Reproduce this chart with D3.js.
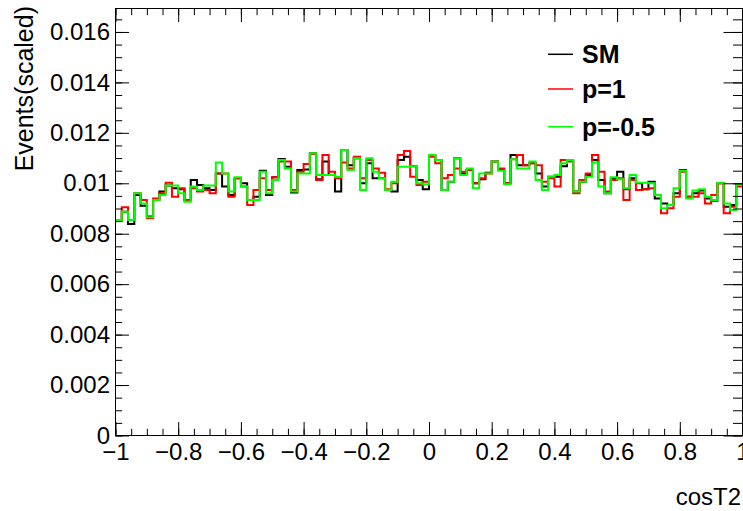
<!DOCTYPE html>
<html>
<head>
<meta charset="utf-8">
<script src="https://cdn.jsdelivr.net/npm/d3@7"></script>
<style>
  html, body { margin: 0; padding: 0; background: #fff; }
  svg { display: block; }
  text { font-family: "Liberation Sans", Arial, Helvetica, sans-serif; }
</style>
</head>
<body>
<svg id="chart" width="743" height="511"></svg>
<script>
// Histogram binning of cosT2
const binLow = -1;
const binHigh = 1;
const nBins = 100;

// Normalised bin contents, one value per bin
const smValues = [
  0.00854, 0.00887, 0.00839, 0.00954, 0.00911, 0.00868, 0.00934, 0.00967, 0.00991, 0.00980,
  0.00976, 0.00934, 0.01013, 0.00993, 0.00980, 0.00973, 0.01039, 0.00987, 0.00954, 0.01020,
  0.01000, 0.00934, 0.00947, 0.01050, 0.00954, 0.01024, 0.01096, 0.01066, 0.00963, 0.01053,
  0.01055, 0.01119, 0.01016, 0.01086, 0.01033, 0.00967, 0.01132, 0.01072, 0.01099, 0.01000,
  0.01079, 0.01020, 0.01020, 0.00973, 0.00967, 0.01092, 0.01105, 0.01068, 0.01013, 0.00976,
  0.01112, 0.01092, 0.00973, 0.01006, 0.01099, 0.01039, 0.01053, 0.01000, 0.01016, 0.01042,
  0.01086, 0.01053, 0.01000, 0.01112, 0.01072, 0.01072, 0.01079, 0.01039, 0.00987, 0.01026,
  0.01026, 0.01068, 0.01090, 0.00967, 0.01006, 0.01033, 0.01092, 0.01013, 0.00960, 0.01020,
  0.01046, 0.00976, 0.01020, 0.01000, 0.00976, 0.01006, 0.00940, 0.00920, 0.00914, 0.00960,
  0.01053, 0.00947, 0.00960, 0.00971, 0.00940, 0.00931, 0.01000, 0.00907, 0.00914, 0.00993
];
const p1Values = [
  0.00850, 0.00905, 0.00854, 0.00960, 0.00934, 0.00861, 0.00940, 0.00960, 0.01002, 0.00947,
  0.00980, 0.00934, 0.00980, 0.00967, 0.00973, 0.00960, 0.01039, 0.01039, 0.00947, 0.01020,
  0.00987, 0.00914, 0.00973, 0.01020, 0.00973, 0.01024, 0.01086, 0.01086, 0.00973, 0.01046,
  0.01076, 0.01116, 0.01013, 0.01112, 0.01046, 0.01020, 0.01082, 0.01059, 0.01105, 0.01020,
  0.01092, 0.01059, 0.01042, 0.00976, 0.01000, 0.01112, 0.01128, 0.01026, 0.00993, 0.01006,
  0.01105, 0.01079, 0.01020, 0.01033, 0.01059, 0.01046, 0.01053, 0.01000, 0.01020, 0.01039,
  0.01086, 0.01059, 0.01000, 0.01095, 0.01112, 0.01072, 0.01079, 0.01072, 0.01006, 0.01020,
  0.00987, 0.01092, 0.01086, 0.00960, 0.01013, 0.01039, 0.01112, 0.01046, 0.00967, 0.01013,
  0.01020, 0.00934, 0.01013, 0.00973, 0.00976, 0.00980, 0.00954, 0.00881, 0.00901, 0.00947,
  0.01046, 0.00947, 0.00947, 0.00960, 0.00920, 0.00954, 0.01000, 0.00881, 0.00907, 0.00987
];
const pm05Values = [
  0.00854, 0.00887, 0.00854, 0.00960, 0.00920, 0.00865, 0.00934, 0.00954, 0.00991, 0.00991,
  0.00960, 0.00927, 0.00987, 0.00973, 0.00991, 0.00991, 0.01082, 0.01039, 0.00967, 0.01024,
  0.00987, 0.00934, 0.00934, 0.01046, 0.00960, 0.01013, 0.01092, 0.01059, 0.00967, 0.01039,
  0.01039, 0.01119, 0.01033, 0.01033, 0.01033, 0.01026, 0.01132, 0.01053, 0.01099, 0.00973,
  0.01099, 0.01046, 0.01020, 0.00973, 0.01006, 0.01066, 0.01066, 0.01068, 0.01000, 0.00996,
  0.01112, 0.01092, 0.00973, 0.01006, 0.01099, 0.01033, 0.01059, 0.00980, 0.01039, 0.01039,
  0.01086, 0.01050, 0.00996, 0.01095, 0.01059, 0.01059, 0.01086, 0.01013, 0.00973, 0.01026,
  0.01033, 0.01079, 0.01092, 0.00967, 0.01006, 0.01026, 0.01082, 0.00987, 0.00960, 0.01024,
  0.01016, 0.00980, 0.01033, 0.01002, 0.01002, 0.01000, 0.00954, 0.00901, 0.00914, 0.00980,
  0.01050, 0.00940, 0.00971, 0.00976, 0.00947, 0.00934, 0.01002, 0.00920, 0.00894, 0.00993
];

// Series names and colours for the legend
const seriesNames = ["SM", "p=1", "p=-0.5"];
const seriesColors = ["#000000", "#ff0000", "#00ff00"];

// Axis ticks
const xMajorTicks = [-1, -0.8, -0.6, -0.4, -0.2, 0, 0.2, 0.4, 0.6, 0.8, 1];
const xTickLabels = ["\u22121", "\u22120.8", "\u22120.6", "\u22120.4", "\u22120.2", "0", "0.2", "0.4", "0.6", "0.8", "1"];
const yMajorTicks = [0, 0.002, 0.004, 0.006, 0.008, 0.01, 0.012, 0.014, 0.016];
const yTickLabels = ["0", "0.002", "0.004", "0.006", "0.008", "0.01", "0.012", "0.014", "0.016"];
const yMax = 0.01693;

const xTitle = "cosT2";
const yTitle = "Events(scaled)";

// ---- layout ----
const frame = { left: 115.5, right: 742.5, top: 8.5, bottom: 435.5 };
const fontSize = 24;

const svg = d3.select("#chart");

const x = d3.scaleLinear().domain([binLow, binHigh]).range([frame.left, frame.right]);
const y = d3.scaleLinear().domain([0, yMax]).range([frame.bottom, frame.top]);

const xMinor = d3.range(-1, 1.0001, 0.05).map(v => +v.toFixed(4));
const yMinor = d3.range(0, yMax, 0.0005).map(v => +v.toFixed(5));

// histogram outlines (step lines across bin edges)
const edges = d3.range(nBins + 1).map(i => binLow + (binHigh - binLow) * i / nBins);
function stepPoints(values) {
  const pts = [];
  values.forEach((v, i) => {
    pts.push([edges[i], v]);
    pts.push([edges[i + 1], v]);
  });
  return pts;
}
const line = d3.line().x(d => x(d[0])).y(d => y(d[1]));

svg.append("clipPath").attr("id", "frameClip")
  .append("rect")
  .attr("x", frame.left).attr("y", frame.top)
  .attr("width", frame.right - frame.left).attr("height", frame.bottom - frame.top);

const histG = svg.append("g").attr("clip-path", "url(#frameClip)");
[smValues, p1Values, pm05Values].forEach((vals, k) => {
  histG.append("path")
    .attr("d", line(stepPoints(vals)))
    .attr("fill", "none")
    .attr("stroke", seriesColors[k])
    .attr("stroke-width", 2)
    .attr("stroke-linejoin", "miter");
});

// ---- axes ----
function styleAxis(g) {
  g.select(".domain").remove();
  g.selectAll(".tick line").attr("stroke", "#000").attr("stroke-width", 1);
  g.selectAll(".tick text")
    .attr("fill", "#000")
    .style("font-family", "'Liberation Sans', Arial, sans-serif")
    .style("font-size", fontSize + "px");
}

// bottom axis: major ticks with labels
svg.append("g")
  .attr("transform", `translate(0,${frame.bottom})`)
  .call(d3.axisBottom(x).tickValues(xMajorTicks).tickSizeInner(-13.5).tickSizeOuter(0)
    .tickPadding(7.5).tickFormat((d, i) => xTickLabels[i]))
  .call(styleAxis);
// bottom axis minor ticks
svg.append("g")
  .attr("transform", `translate(0,${frame.bottom})`)
  .call(d3.axisBottom(x).tickValues(xMinor).tickSizeInner(-6.7).tickSizeOuter(0).tickFormat(""))
  .call(styleAxis);
// top axis ticks (no labels)
svg.append("g")
  .attr("transform", `translate(0,${frame.top})`)
  .call(d3.axisTop(x).tickValues(xMajorTicks).tickSizeInner(-13.5).tickSizeOuter(0).tickFormat(""))
  .call(styleAxis);
svg.append("g")
  .attr("transform", `translate(0,${frame.top})`)
  .call(d3.axisTop(x).tickValues(xMinor).tickSizeInner(-6.7).tickSizeOuter(0).tickFormat(""))
  .call(styleAxis);

// left axis with labels
svg.append("g")
  .attr("transform", `translate(${frame.left},0)`)
  .call(d3.axisLeft(y).tickValues(yMajorTicks).tickSizeInner(-13.5).tickSizeOuter(0)
    .tickPadding(5.5).tickFormat((d, i) => yTickLabels[i]))
  .call(styleAxis);
svg.append("g")
  .attr("transform", `translate(${frame.left},0)`)
  .call(d3.axisLeft(y).tickValues(yMinor).tickSizeInner(-6.7).tickSizeOuter(0).tickFormat(""))
  .call(styleAxis);
// right axis ticks
svg.append("g")
  .attr("transform", `translate(${frame.right},0)`)
  .call(d3.axisRight(y).tickValues(yMajorTicks).tickSizeInner(-19).tickSizeOuter(0).tickFormat(""))
  .call(styleAxis);
svg.append("g")
  .attr("transform", `translate(${frame.right},0)`)
  .call(d3.axisRight(y).tickValues(yMinor).tickSizeInner(-9.5).tickSizeOuter(0).tickFormat(""))
  .call(styleAxis);

// frame
svg.append("rect")
  .attr("x", frame.left).attr("y", frame.top)
  .attr("width", frame.right - frame.left).attr("height", frame.bottom - frame.top)
  .attr("fill", "none").attr("stroke", "#000").attr("stroke-width", 1);

// axis titles
svg.append("text")
  .attr("x", 741).attr("y", 505)
  .attr("text-anchor", "end")
  .style("font-size", fontSize + "px")
  .text(xTitle);

svg.append("text")
  .attr("transform", "translate(33,6) rotate(-90)")
  .attr("text-anchor", "end")
  .style("font-size", "25px")
  .text(yTitle);

// legend
const legendRows = [54.3, 89, 126.7];
const legend = svg.append("g");
seriesNames.forEach((name, i) => {
  legend.append("line")
    .attr("x1", 548).attr("x2", 573)
    .attr("y1", legendRows[i]).attr("y2", legendRows[i])
    .attr("stroke", seriesColors[i]).attr("stroke-width", 1.5);
  legend.append("text")
    .attr("x", 582).attr("y", legendRows[i] + 8.8)
    .style("font-size", "25px")
    .style("font-weight", "bold")
    .text(name);
});
</script>
</body>
</html>
